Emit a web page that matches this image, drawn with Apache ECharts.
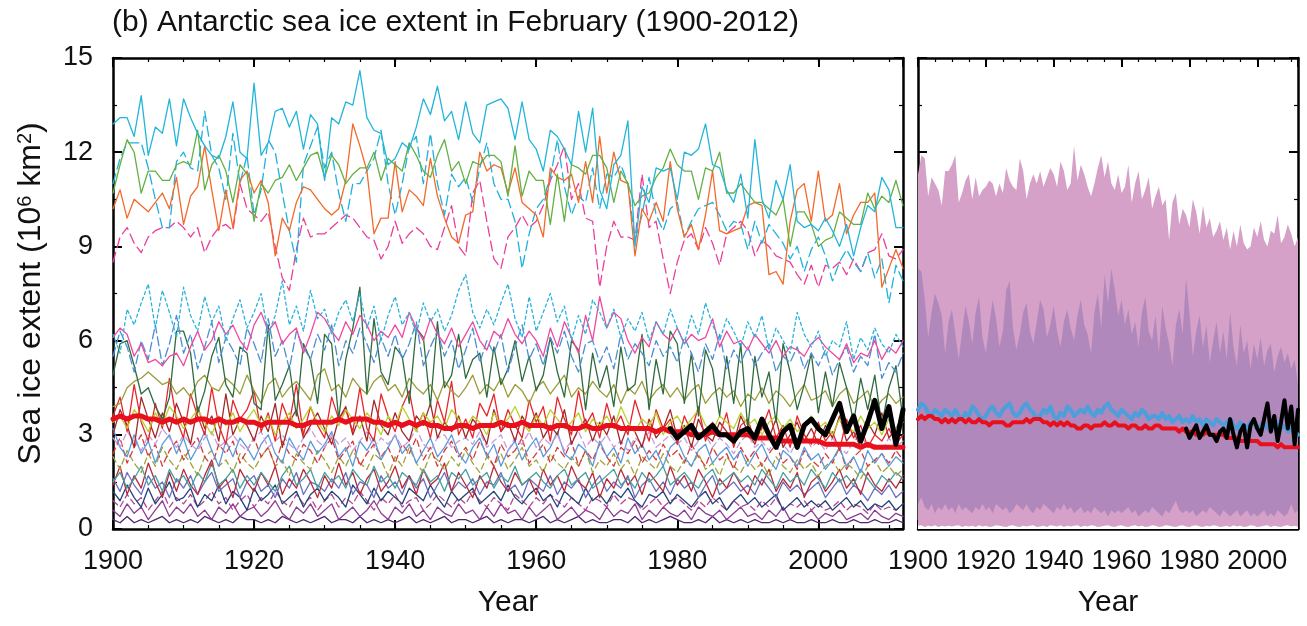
<!DOCTYPE html>
<html>
<head>
<meta charset="utf-8">
<script src="https://cdn.jsdelivr.net/npm/echarts@6/dist/echarts.min.js"></script>
<style>
  html, body { margin: 0; padding: 0; background: #fff; }
  #chart { width: 1307px; height: 626px; }
</style>
</head>
<body>
<div id="chart"></div>
<script>
// years 1900..2012, observations 1979..2012
const YEARS = Array.from({ length: 113 }, (_, i) => 1900 + i);
const OBS_YEARS = YEARS.slice(79);
const X_TICKS = { min: 1900, max: 2012, major: 20, minor: 5 };
const Y_TICKS = { min: 0, max: 15, major: 3 };

// individual model runs (left panel), 10^6 km^2
const CYAN_SOLID = [
  12.9,13.1,13.1,12.5,13.8,11.9,12.8,12.6,13.7,12.2,
  13.7,13.1,12.6,12.2,11.9,11.8,12.5,13.6,12.0,11.8,
  14.2,11.9,12.3,13.3,13.4,12.8,13.3,12.1,13.2,12.9,
  11.1,13.1,12.9,13.6,13.5,14.6,13.1,12.7,12.6,11.6,
  11.8,12.3,12.1,12.8,13.7,13.2,14.1,13.0,13.3,12.4,
  13.6,12.6,12.3,13.5,13.6,13.7,13.4,12.4,13.6,12.4,
  12.1,11.4,12.7,12.5,12.1,11.6,13.3,12.0,13.4,10.8,
  10.2,11.6,11.9,13.0,9.0,10.9,10.4,11.5,11.4,11.5,
  10.5,12.0,11.9,12.1,12.9,11.6,11.5,10.8,10.4,11.3,
  9.9,12.4,10.5,9.9,11.1,10.5,11.6,9.8,9.6,9.7,
  9.5,9.9,9.5,9.0,9.7,8.7,9.6,10.3,10.1,11.2,
  10.8,9.6,9.6
];
const GREEN_SOLID = [
  10.7,11.6,12.4,12.0,10.7,11.4,11.4,11.1,11.1,11.6,
  11.7,11.6,12.7,10.8,11.6,11.9,11.4,10.4,11.6,11.3,
  9.8,11.0,10.7,11.1,11.2,11.6,11.1,11.5,11.9,12.0,
  11.2,11.9,11.6,11.0,11.3,11.5,11.5,12.0,11.1,11.8,
  11.6,11.4,12.3,11.9,11.4,11.2,11.9,12.4,11.4,11.7,
  11.0,11.7,11.6,11.9,11.9,11.7,10.6,12.2,10.6,11.4,
  11.1,11.1,9.7,11.3,9.8,11.6,11.5,11.3,11.9,11.9,
  11.5,10.4,11.4,11.0,10.3,10.6,10.7,11.2,11.5,12.1,
  11.6,11.4,11.4,10.5,11.5,11.4,12.0,10.7,10.7,11.0,
  10.7,10.4,10.4,10.2,10.0,10.5,9.0,10.1,10.1,9.7,
  9.0,9.2,9.3,10.1,9.9,9.7,9.7,10.7,10.2,10.6,
  10.4,11.1,10.3
];
const ORANGE_SOLID = [
  10.2,10.8,9.9,10.5,10.3,10.1,10.4,10.7,10.2,11.2,
  9.7,10.6,10.9,12.2,10.8,9.5,10.8,9.6,11.1,11.4,
  10.7,11.1,10.4,8.7,9.9,9.5,10.4,10.9,10.8,10.5,
  10.2,10.0,10.2,11.1,12.9,12.2,11.4,9.4,9.9,9.9,
  11.7,10.1,10.8,10.6,10.3,11.8,10.6,9.9,9.3,9.1,
  10.0,10.1,12.0,11.4,11.6,11.5,10.7,11.5,10.4,10.2,
  10.0,9.3,11.5,11.2,11.1,11.3,10.4,11.7,10.4,12.5,
  10.7,12.0,11.1,11.0,8.7,10.2,9.8,10.4,9.8,11.7,
  10.2,9.3,9.7,8.9,10.0,11.4,9.5,9.4,9.5,9.6,
  10.3,10.4,10.3,8.1,8.2,7.8,9.8,10.8,11.0,9.8,
  11.4,9.8,10.0,11.0,9.4,10.0,10.4,10.4,10.7,7.7,
  8.3,8.9,8.3
];
const CYAN_DASHED = [
  11.0,11.8,12.3,12.3,12.3,11.5,10.5,9.6,9.6,11.7,
  12.0,11.5,11.4,13.3,11.9,11.5,10.5,12.6,11.0,11.9,
  10.0,10.8,12.4,12.0,10.7,9.5,8.5,11.6,12.2,12.8,
  11.5,12.0,10.7,9.8,11.0,11.0,11.4,11.8,12.7,11.0,
  10.0,11.0,12.2,12.5,11.0,12.6,11.0,10.0,11.3,10.9,
  11.2,10.4,11.5,12.3,11.0,10.5,10.5,9.8,8.3,9.4,
  10.2,10.5,11.2,12.4,10.9,10.0,10.6,10.4,11.5,10.2,
  11.3,11.2,11.6,11.0,9.2,10.0,11.2,10.0,9.5,10.2,
  10.4,9.3,9.8,10.2,10.3,10.4,10.0,9.5,9.8,9.7,
  8.9,9.8,9.1,9.7,9.4,9.1,8.6,9.0,8.2,8.9,
  9.3,8.7,7.9,8.5,8.9,8.5,8.2,8.8,8.0,8.6,
  7.2,8.4,7.9
];
const PINK_DASHED = [
  8.5,9.3,9.6,9.1,8.8,9.3,9.5,9.6,9.6,9.8,
  9.6,9.3,9.6,8.8,9.3,9.6,9.7,9.5,11.0,10.2,
  10.0,9.8,10.1,9.0,8.0,7.6,8.9,9.9,9.3,9.4,
  9.4,9.6,9.8,10.0,9.9,9.6,9.3,9.2,8.6,9.0,
  9.8,9.1,9.4,9.6,9.4,9.0,8.9,9.6,10.3,9.0,
  8.7,10.7,11.1,9.8,8.6,8.3,9.3,9.6,10.0,9.6,
  9.8,10.3,11.1,11.6,12.2,10.5,11.0,9.9,9.8,7.7,
  9.0,9.8,9.3,9.3,9.2,11.3,9.6,9.8,8.6,7.5,
  8.5,9.2,9.4,8.9,9.6,9.1,8.4,9.4,9.6,9.8,
  9.5,8.7,9.2,9.0,8.7,8.6,8.5,8.1,7.8,8.4,
  7.7,8.4,8.3,8.5,8.1,8.6,8.2,8.8,8.9,9.4,
  8.7,8.6,8.9
];
const CYAN_DOTTED = [
  6.2,5.6,7.0,6.5,7.2,7.8,6.4,7.6,6.9,6.1,
  7.7,6.8,6.3,7.4,6.6,7.1,6.0,6.7,7.3,6.4,
  6.9,7.5,6.2,6.8,7.9,6.5,7.1,6.3,7.6,6.7,
  7.0,6.2,6.9,7.3,6.6,7.5,6.4,7.1,6.0,6.8,
  7.4,6.5,6.9,6.2,7.2,6.6,7.0,6.3,6.8,7.6,
  8.1,6.9,6.4,7.0,6.5,7.2,7.8,6.7,6.1,7.4,
  6.3,6.9,7.5,6.6,7.1,6.0,6.8,6.2,7.3,6.9,
  6.4,7.0,6.1,6.7,6.3,6.9,6.0,6.6,6.2,7.0,
  6.4,5.9,6.8,6.2,7.2,6.5,6.0,6.7,6.3,5.8,
  6.6,6.1,6.8,5.7,6.4,6.0,5.6,6.9,6.2,5.8,
  6.3,5.5,6.0,5.8,6.6,5.4,6.1,5.7,6.4,5.9,
  5.6,6.2,5.8
];
const BLUE_DASHED = [
  5.5,6.3,5.8,5.0,6.0,5.4,6.5,5.2,5.9,6.8,
  5.6,6.2,5.1,5.8,6.6,5.3,6.1,5.7,5.2,6.4,
  5.9,5.3,6.7,5.5,6.0,5.1,6.3,5.8,5.4,6.2,
  5.7,6.5,5.2,6.0,5.6,6.4,5.9,5.3,6.1,5.5,
  6.2,5.4,5.9,6.6,5.2,5.8,6.3,5.5,6.0,5.1,
  5.7,6.4,5.3,6.0,5.6,6.2,5.0,5.8,6.5,5.4,
  5.9,5.2,6.1,5.6,6.3,5.5,5.0,5.9,6.0,5.3,
  5.8,5.1,6.2,5.4,5.9,5.6,5.2,6.0,5.5,5.8,
  5.3,6.1,5.6,5.0,5.9,5.4,6.2,5.1,5.7,5.3,
  5.8,5.2,5.6,5.9,5.0,5.5,5.3,5.8,5.1,5.6,
  5.2,5.7,4.9,5.4,5.8,5.0,5.5,5.2,6.2,4.8,
  5.3,5.0,5.6
];
const PINK_SOLID = [
  6.1,6.4,6.2,5.5,5.9,5.3,5.4,5.2,5.5,5.6,
  5.2,5.8,6.3,5.7,6.0,6.6,6.2,6.5,6.0,5.7,
  6.5,6.9,6.3,6.6,5.9,6.2,6.4,5.6,6.2,6.9,
  6.7,6.3,6.0,6.6,6.2,6.8,6.5,6.0,6.3,6.1,
  6.5,6.1,6.9,6.4,6.0,6.7,6.2,5.9,6.4,5.8,
  6.2,6.6,6.0,5.7,6.3,6.1,6.7,6.2,5.9,6.3,
  6.0,5.5,6.4,5.8,6.6,6.1,5.6,6.8,6.0,7.4,
  6.4,6.9,6.7,6.0,5.6,6.1,5.8,6.6,6.2,6.0,
  6.4,5.9,6.2,6.0,6.1,6.7,5.8,6.3,5.9,6.0,
  5.7,6.2,5.9,5.6,6.0,5.5,5.8,5.7,5.5,5.9,
  6.1,5.8,5.6,5.4,5.9,5.3,5.6,5.5,6.0,5.4,
  5.8,5.6,6.0
];
const DARK_GREEN = [
  4.9,5.9,6.0,5.2,4.3,4.5,3.9,3.5,4.2,6.3,
  6.3,5.6,3.7,4.4,5.5,6.1,4.6,4.2,5.8,5.6,
  4.0,3.8,6.5,4.1,4.6,5.2,3.6,5.9,5.4,4.0,
  6.2,5.9,3.5,5.4,6.4,7.7,4.3,6.7,5.0,4.6,
  5.8,5.5,4.0,6.4,6.1,3.9,6.6,4.5,4.9,6.2,
  4.8,5.4,5.6,4.2,5.8,4.6,5.1,6.0,4.7,5.5,
  4.4,4.9,6.1,5.0,4.2,6.0,5.7,3.8,5.6,4.5,
  5.2,3.9,5.8,4.4,4.6,6.2,3.8,5.4,4.3,6.3,
  5.9,4.0,5.6,3.6,5.7,5.1,3.6,5.5,4.0,5.9,
  3.2,5.5,4.2,5.0,3.4,5.9,5.0,3.8,4.6,5.6,
  3.7,5.0,3.9,5.3,4.5,3.4,4.8,3.8,4.9,3.3,
  4.5,5.2,3.5
];
const OLIVE_SOLID = [
  3.9,4.0,4.5,4.7,4.8,5.0,4.8,4.6,4.7,4.3,
  4.5,4.2,4.7,4.9,4.5,4.4,4.8,4.6,4.3,4.9,
  4.4,4.0,4.6,4.8,4.2,4.5,4.7,4.4,4.1,4.9,
  5.1,4.4,4.6,4.2,4.8,4.5,4.3,4.7,4.9,4.4,
  4.6,4.2,4.8,4.5,4.3,4.6,4.1,4.7,4.4,4.2,
  4.5,4.9,4.3,4.6,4.4,4.8,4.2,4.6,4.4,4.0,
  4.5,4.7,4.3,4.6,4.9,4.2,4.5,4.3,4.7,4.4,
  4.2,4.6,4.0,4.5,4.3,4.7,4.1,4.4,4.6,4.2,
  4.5,4.1,4.4,4.6,4.0,4.3,4.5,4.2,4.4,3.9,
  4.3,4.1,4.5,4.0,4.4,4.2,3.9,4.3,4.6,4.1,
  4.2,4.4,3.9,4.3,4.5,4.0,4.2,4.4,3.8,4.1,
  4.3,4.0,4.2
];
const LIME_SOLID = [
  3.4,3.6,3.2,3.8,3.5,3.1,3.7,3.3,3.9,3.6,
  3.2,3.5,3.8,3.4,3.0,3.6,3.3,3.7,3.1,3.5,
  3.8,3.3,3.6,3.0,3.4,3.7,3.2,3.5,3.9,3.4,
  3.1,3.6,3.3,3.8,3.5,3.2,3.7,3.4,3.0,3.6,
  3.3,3.9,3.5,3.1,3.7,3.4,3.6,3.2,3.8,3.5,
  3.2,3.6,3.4,3.0,3.7,3.3,3.5,3.9,3.4,3.1,
  3.6,3.3,3.8,3.5,3.2,3.4,3.7,3.1,3.5,3.3,
  3.6,3.2,3.9,3.4,3.1,3.5,3.3,3.7,3.0,3.4,
  3.6,3.2,3.5,3.8,3.3,3.1,3.6,3.4,3.2,3.7,
  3.3,3.5,3.0,3.4,3.6,3.2,3.5,3.1,3.3,3.6,
  3.2,3.4,3.0,3.5,3.3,3.1,3.6,3.2,3.4,3.0,
  3.5,3.2,3.4
];
const RED_THIN = [
  3.6,4.2,3.1,4.6,3.4,2.8,4.0,3.2,4.8,3.5,
  2.9,4.3,3.6,3.0,4.5,3.3,2.7,4.1,3.5,3.8,
  4.4,3.1,3.7,2.8,4.0,3.4,4.6,3.0,3.9,3.3,
  2.9,4.2,3.5,3.8,3.1,4.5,3.2,2.8,4.3,3.6,
  3.1,3.9,4.4,3.2,3.7,2.9,4.1,3.4,4.7,3.0,
  3.5,2.9,4.0,3.6,4.3,3.1,3.8,3.3,2.9,4.1,
  3.4,3.9,2.8,4.2,3.5,3.0,4.4,3.3,3.7,2.9,
  4.0,3.2,3.6,3.0,4.1,3.4,2.8,3.8,3.2,3.5,
  2.7,3.6,3.1,3.9,2.8,3.4,3.0,3.7,2.6,3.3,
  3.5,2.8,3.2,3.8,2.9,3.3,2.6,3.6,3.0,2.7,
  3.4,2.8,3.1,2.5,3.5,2.9,3.3,2.6,3.0,2.8,
  3.2,2.7,3.0
];
const BROWN_SOLID = [
  3.0,3.8,3.3,2.6,4.2,3.5,2.9,3.7,3.1,4.0,
  3.4,2.7,3.9,3.2,3.6,2.8,4.3,3.0,3.5,3.3,
  2.8,3.6,3.1,4.0,2.6,3.4,3.8,2.9,3.3,3.7,
  3.2,2.7,3.5,3.9,3.0,3.6,2.8,4.1,3.3,3.0,
  3.7,3.1,2.8,3.6,3.3,4.0,2.9,3.4,3.1,3.6,
  2.9,3.5,3.2,2.7,3.8,3.1,3.4,2.8,3.6,3.2,
  3.7,2.9,3.3,3.0,3.8,2.7,3.2,3.5,2.8,3.4,
  3.0,3.6,2.7,3.3,3.1,2.6,3.5,2.9,3.2,3.8,
  2.9,3.3,2.6,3.5,3.0,2.8,3.4,3.1,2.7,3.6,
  3.1,2.7,3.3,2.9,3.5,2.6,3.0,3.4,2.8,3.2,
  2.7,3.3,2.9,3.6,2.8,3.1,2.6,3.4,3.0,3.7,
  2.9,3.2,3.6
];
const LAVENDER_DASHED = [
  2.9,2.6,3.1,2.8,2.5,3.0,2.7,3.2,2.9,2.6,
  3.0,2.7,2.5,2.9,3.1,2.6,2.8,3.0,2.7,2.5,
  2.9,3.1,2.6,2.8,3.0,2.7,2.5,2.9,3.2,2.8,
  2.6,3.0,2.7,2.9,2.5,2.8,3.1,2.6,2.9,2.7,
  3.0,2.6,2.8,3.2,2.7,2.5,2.9,3.0,2.6,2.8,
  2.9,2.7,3.1,2.6,2.8,3.0,2.5,2.9,2.7,3.1,
  2.6,2.9,2.7,3.0,2.5,2.8,3.1,2.6,2.9,2.7,
  3.0,2.6,2.8,2.5,2.9,2.7,3.1,2.6,2.8,3.0,
  2.7,2.9,2.5,2.8,3.0,2.6,2.9,2.7,2.4,2.8,
  3.0,2.6,2.8,2.5,2.9,2.7,2.4,2.8,3.0,2.6,
  2.8,2.5,2.9,2.6,2.4,2.8,3.0,2.6,2.7,2.5,
  2.9,2.6,2.8
];
const STEEL_SOLID = [
  3.2,2.6,2.3,3.0,2.4,2.8,2.1,2.7,3.0,2.4,
  2.9,2.2,2.6,3.1,2.5,2.0,2.8,2.3,2.9,2.6,
  2.2,2.7,3.0,2.4,2.1,2.9,2.5,2.2,2.8,2.4,
  2.7,3.1,2.3,2.6,2.0,2.8,2.5,2.9,2.2,2.6,
  3.0,2.4,2.7,2.1,2.5,2.9,2.3,2.6,3.0,2.4,
  2.1,2.6,2.9,2.3,2.7,2.0,2.5,2.8,2.2,2.6,
  2.9,2.3,2.6,3.1,2.4,2.2,2.7,2.5,2.0,2.8,
  2.3,2.6,2.1,2.9,2.4,2.7,2.2,2.5,2.0,2.6,
  2.8,2.3,2.0,2.5,2.7,2.1,2.4,2.6,2.2,2.5,
  2.0,2.4,2.7,2.2,1.9,2.5,2.3,2.0,2.6,2.2,
  2.4,1.9,2.2,2.6,2.0,2.3,1.8,2.5,2.1,2.4,
  2.0,2.3,2.1
];
const CRIMSON_DASHED = [
  2.4,2.9,2.1,2.6,3.0,2.3,2.7,2.0,2.5,2.8,
  2.2,2.6,2.9,2.3,2.0,2.7,2.4,2.8,2.1,2.5,
  2.9,2.3,2.6,2.0,2.8,2.4,2.2,2.7,2.5,2.1,
  2.6,2.9,2.2,2.5,2.8,2.0,2.4,2.7,2.3,2.6,
  2.1,2.7,2.4,2.9,2.2,2.6,2.0,2.5,2.8,2.3,
  2.6,2.2,2.8,2.4,2.0,2.7,2.3,2.5,2.9,2.1,
  2.4,2.7,2.1,2.6,2.3,2.8,2.0,2.5,2.2,2.7,
  2.3,2.0,2.6,2.4,2.8,2.1,2.5,2.2,2.7,2.3,
  2.5,2.1,2.7,2.3,2.0,2.6,2.2,2.4,1.9,2.6,
  2.2,2.5,2.0,2.4,2.7,2.1,2.3,1.9,2.5,2.2,
  2.0,2.4,2.1,2.6,1.9,2.3,2.5,2.0,2.2,2.4,
  2.1,2.5,2.2
];
const OLIVE_DASHED = [
  2.3,1.9,2.5,2.1,1.8,2.4,2.0,2.6,2.2,1.9,
  2.4,2.1,1.7,2.3,2.5,2.0,2.2,1.8,2.4,2.1,
  1.9,2.3,2.6,2.0,2.2,1.7,2.4,2.1,1.9,2.5,
  2.2,1.8,2.3,2.0,2.5,2.1,1.9,2.4,2.2,1.7,
  2.3,2.0,2.6,2.1,1.8,2.4,2.2,1.9,2.3,2.0,
  2.5,2.1,1.8,2.3,2.0,2.4,1.9,2.2,2.6,2.0,
  2.2,1.8,2.4,2.1,1.9,2.3,2.0,2.5,1.8,2.2,
  2.0,2.4,1.9,2.2,1.7,2.3,2.1,1.9,2.4,2.0,
  1.8,2.2,2.0,2.4,1.9,2.1,1.7,2.3,2.0,1.8,
  2.2,1.9,2.1,1.7,2.3,2.0,1.8,2.2,1.9,2.1,
  1.7,2.0,2.2,1.8,2.1,1.9,1.6,2.0,2.2,1.8,
  2.0,1.7,1.9
];
const TEAL_SOLID = [
  1.5,1.8,1.3,1.6,2.0,1.4,1.7,1.2,1.9,1.5,
  1.7,1.3,1.8,1.5,2.1,1.4,1.6,1.9,1.3,1.7,
  1.4,1.8,1.5,1.2,1.7,2.0,1.4,1.6,1.9,1.3,
  1.8,1.5,1.7,1.3,1.9,1.6,1.4,2.0,1.5,1.7,
  1.3,1.8,1.6,1.4,1.9,1.5,1.7,1.2,1.8,1.6,
  1.9,1.4,1.6,1.8,1.3,1.7,1.5,2.0,1.4,1.6,
  1.8,1.5,1.3,1.7,1.9,1.4,1.6,1.8,1.3,1.5,
  1.7,1.9,1.4,1.6,1.3,1.8,1.5,1.7,2.0,1.4,
  1.6,1.8,1.5,1.3,1.7,1.9,1.4,1.6,1.8,1.5,
  1.7,1.4,1.9,1.6,1.3,1.8,1.5,1.7,1.4,1.9,
  1.6,1.3,1.8,1.5,1.7,1.4,1.9,1.6,1.3,1.7,
  1.5,1.8,1.6
];
const DARK_RED = [
  1.4,2.0,1.1,1.7,1.3,2.1,1.5,1.0,1.8,1.2,
  1.9,1.4,1.1,1.7,2.2,1.3,1.6,1.0,1.9,1.5,
  1.2,1.8,1.4,2.0,1.1,1.6,1.3,1.9,1.5,1.0,
  1.7,1.3,2.1,1.4,1.8,1.1,1.6,1.9,1.2,1.5,
  2.0,1.3,1.7,1.1,1.9,1.4,1.6,2.1,1.2,1.8,
  1.4,1.0,1.7,1.3,2.0,1.5,1.2,1.8,1.4,1.6,
  1.1,1.9,1.4,1.7,1.2,2.0,1.5,1.3,1.8,1.0,
  1.6,1.3,1.9,1.4,1.7,1.1,1.8,1.5,1.2,2.0,
  1.4,1.7,1.2,1.9,1.5,1.0,1.6,1.3,1.8,1.4,
  1.1,1.7,1.4,1.9,1.2,1.6,1.3,1.8,1.0,1.5,
  1.7,1.2,1.5,1.9,1.3,1.6,1.1,1.8,1.4,1.2,
  1.6,1.3,1.7
];
const SLATE_SOLID = [
  1.6,1.2,1.8,1.4,1.1,1.7,1.3,1.5,1.0,1.6,
  1.3,1.7,1.1,1.5,1.8,1.2,1.4,1.6,1.0,1.5,
  1.7,1.2,1.4,1.0,1.6,1.3,1.8,1.1,1.5,1.4,
  1.2,1.6,1.3,1.8,1.1,1.5,1.4,1.0,1.7,1.3,
  1.5,1.1,1.7,1.3,1.6,1.0,1.4,1.8,1.2,1.5,
  1.3,1.6,1.1,1.5,1.4,1.8,1.2,1.4,1.0,1.6,
  1.4,1.2,1.7,1.1,1.5,1.3,1.6,1.0,1.4,1.7,
  1.2,1.5,1.3,1.7,1.0,1.4,1.6,1.2,1.5,1.1,
  1.6,1.3,1.5,1.0,1.4,1.7,1.1,1.3,1.5,1.2,
  1.4,1.1,1.6,1.3,1.0,1.5,1.2,1.4,1.1,1.3,
  1.5,1.0,1.3,1.6,1.1,1.4,1.2,0.9,1.3,1.1,
  1.4,1.0,1.2
];
const NAVY_SOLID = [
  1.2,0.9,1.4,1.0,0.7,1.3,0.8,1.1,1.5,0.9,
  1.0,1.3,0.7,1.1,0.9,1.4,0.8,1.2,1.0,0.6,
  1.3,0.9,1.1,1.4,0.8,1.0,1.2,0.7,1.1,1.3,
  0.9,1.2,1.0,0.7,1.4,1.1,0.8,1.3,0.9,1.2,
  1.0,0.8,1.3,1.1,0.9,1.4,1.0,0.7,1.2,0.9,
  1.1,1.3,0.8,1.0,1.2,0.9,1.4,1.0,0.8,1.1,
  1.3,0.9,1.1,0.7,1.2,1.0,0.8,1.3,0.9,1.1,
  0.8,1.2,1.0,1.3,0.9,0.7,1.1,1.0,1.2,0.8,
  1.1,0.9,0.7,1.0,1.2,0.8,1.0,0.6,0.9,1.1,
  0.8,1.0,0.7,0.9,1.1,0.6,0.8,1.0,0.7,0.9,
  0.7,0.9,0.6,0.8,1.0,0.7,0.9,0.6,0.8,0.7,
  0.9,0.6,0.8
];
const MAGENTA_DASHED = [
  0.9,0.7,1.1,0.8,1.0,0.6,0.9,1.2,0.7,1.0,
  0.8,1.1,0.7,0.9,1.2,0.8,1.0,0.6,0.9,1.1,
  0.7,1.0,0.8,1.2,0.9,0.7,1.1,0.8,1.0,0.6,
  0.9,1.1,0.7,1.0,0.8,1.2,0.9,0.6,1.0,0.8,
  1.1,0.7,0.9,1.0,0.6,0.8,1.1,0.9,0.7,1.0,
  0.8,1.2,0.9,0.7,1.0,0.8,0.6,1.1,0.9,0.7,
  1.0,0.8,1.1,0.9,0.7,1.0,0.8,0.6,1.0,0.9,
  0.7,1.1,0.8,1.0,0.9,0.6,0.8,1.0,0.7,0.9,
  1.0,0.8,0.6,0.9,0.7,1.0,0.8,0.6,0.9,0.7,
  0.8,0.6,0.9,0.7,1.0,0.6,0.8,0.7,0.9,0.6,
  0.8,0.6,0.7,0.9,0.6,0.8,0.7,0.5,0.8,0.6,
  0.7,0.6,0.8
];
const PURPLE_SOLID = [
  0.6,0.4,0.8,0.5,0.7,0.3,0.6,0.9,0.4,0.7,
  0.5,0.8,0.4,0.6,0.3,0.7,0.5,0.8,0.4,0.6,
  0.7,0.4,0.6,0.9,0.5,0.3,0.7,0.5,0.8,0.4,
  0.6,0.8,0.3,0.5,0.7,0.4,0.6,0.9,0.5,0.3,
  0.7,0.5,0.8,0.4,0.6,0.3,0.7,0.5,0.4,0.8,
  0.5,0.6,0.3,0.7,0.4,0.8,0.5,0.6,0.3,0.7,
  0.4,0.6,0.8,0.3,0.5,0.7,0.4,0.6,0.5,0.3,
  0.7,0.4,0.6,0.5,0.8,0.3,0.6,0.4,0.7,0.5,
  0.4,0.6,0.3,0.7,0.5,0.4,0.6,0.3,0.5,0.7,
  0.4,0.5,0.3,0.6,0.4,0.7,0.3,0.5,0.4,0.6,
  0.3,0.5,0.4,0.6,0.3,0.4,0.5,0.3,0.6,0.4,
  0.3,0.5,0.4
];
const PLUM_SOLID = [
  0.3,0.2,0.4,0.2,0.3,0.2,0.3,0.4,0.2,0.3,
  0.2,0.3,0.2,0.4,0.3,0.2,0.3,0.2,0.4,0.3,
  0.3,0.2,0.3,0.2,0.4,0.3,0.2,0.3,0.2,0.3,
  0.4,0.2,0.3,0.3,0.2,0.4,0.2,0.3,0.2,0.3,
  0.2,0.3,0.4,0.2,0.3,0.2,0.3,0.4,0.2,0.3,
  0.3,0.2,0.3,0.4,0.2,0.3,0.2,0.3,0.3,0.2,
  0.3,0.4,0.2,0.3,0.2,0.3,0.4,0.2,0.3,0.2,
  0.2,0.3,0.3,0.2,0.4,0.2,0.3,0.2,0.3,0.4,
  0.3,0.2,0.2,0.3,0.2,0.4,0.2,0.3,0.2,0.3,
  0.2,0.3,0.2,0.2,0.3,0.2,0.3,0.2,0.2,0.3,
  0.2,0.2,0.3,0.2,0.2,0.3,0.2,0.2,0.3,0.2,
  0.2,0.3,0.2
];

// multi-model mean (thick red), second mean (blue, right panel), observations (black)
const MODEL_MEAN = [
  3.5,3.6,3.5,3.6,3.6,3.5,3.5,3.4,3.5,3.4,
  3.5,3.4,3.5,3.5,3.4,3.5,3.4,3.4,3.5,3.4,
  3.4,3.3,3.4,3.4,3.4,3.4,3.3,3.3,3.4,3.4,
  3.4,3.4,3.5,3.4,3.5,3.5,3.5,3.4,3.4,3.3,
  3.4,3.3,3.4,3.3,3.4,3.3,3.3,3.2,3.2,3.3,
  3.3,3.2,3.3,3.3,3.3,3.4,3.3,3.3,3.4,3.3,
  3.3,3.3,3.2,3.3,3.3,3.2,3.2,3.3,3.2,3.2,
  3.3,3.3,3.2,3.2,3.2,3.2,3.2,3.1,3.2,3.1,
  3.1,3.1,3.0,3.0,3.0,3.1,3.0,3.0,3.0,3.0,
  3.0,2.9,2.9,2.9,2.9,2.8,2.8,2.8,2.8,2.8,
  2.8,2.7,2.7,2.7,2.7,2.7,2.6,2.7,2.6,2.6,
  2.6,2.6,2.6
];
const SUBSET_MEAN = [
  3.8,4.0,3.9,3.7,3.6,3.8,3.7,3.6,3.8,3.7,
  3.6,3.8,3.6,3.5,3.7,3.6,3.9,3.8,3.6,3.5,
  3.6,3.8,3.9,3.7,3.6,3.8,3.9,4.0,3.7,3.6,
  3.7,3.9,4.0,3.8,3.7,3.5,3.6,3.8,3.7,3.9,
  3.6,3.5,3.7,3.6,3.9,3.8,3.6,3.7,3.8,3.7,
  3.9,3.7,3.6,3.8,3.7,3.9,4.0,3.8,3.7,3.6,
  3.8,3.7,3.6,3.5,3.7,3.6,3.8,3.7,3.5,3.6,
  3.6,3.5,3.7,3.5,3.6,3.4,3.5,3.6,3.4,3.5,
  3.4,3.6,3.4,3.5,3.3,3.5,3.4,3.3,3.5,3.4,
  3.3,3.4,3.5,3.3,3.2,3.4,3.3,3.2,3.4,3.3,
  3.2,3.3,3.4,3.2,3.3,3.2,3.4,3.2,3.3,3.1,
  3.2,3.1,3.0
];
const OBSERVED = [
  3.2,2.9,3.1,3.3,2.9,3.1,3.3,3.0,3.0,2.8,
  3.1,3.2,2.9,3.5,3.0,2.6,3.1,3.3,2.6,3.3,
  3.5,3.2,3.0,3.5,4.0,3.1,3.6,2.8,3.4,4.1,
  3.2,3.9,2.7,3.8
];

// right panel envelopes
const RANGE_HI = [
  11.3,11.9,11.8,10.6,11.2,11.0,10.8,10.3,11.4,11.4,
  11.6,11.9,10.4,10.7,11.1,11.3,10.5,11.2,10.6,10.8,
  10.9,11.1,11.0,10.6,11.0,10.7,11.5,11.1,10.9,10.8,
  11.8,11.4,10.5,11.0,11.3,11.0,11.4,10.9,11.2,11.5,
  11.3,10.9,11.7,11.4,10.8,11.0,12.2,11.1,11.6,11.3,
  10.9,10.6,11.0,11.5,11.9,11.2,11.7,11.0,10.8,11.3,
  10.7,10.9,11.6,10.4,11.0,11.4,10.5,10.8,11.2,10.2,
  10.6,10.9,10.3,10.5,9.2,10.4,10.7,9.7,10.2,10.0,
  9.6,10.5,10.1,9.4,10.3,9.6,9.9,9.3,9.5,9.8,
  9.2,9.6,8.9,9.5,9.0,9.7,9.1,8.9,9.0,9.6,
  9.3,9.8,9.2,9.0,9.5,9.4,10.0,9.1,9.3,9.7,
  9.4,9.0,9.3
];
const SPREAD_HI = [
  8.3,8.2,7.3,6.1,6.9,7.5,7.2,6.8,5.6,6.6,
  7.0,6.2,5.4,6.3,7.1,6.6,5.9,6.9,7.4,6.1,
  5.6,6.5,7.3,6.7,5.8,6.3,7.6,7.9,6.4,5.7,
  6.2,6.9,7.2,6.3,5.9,6.6,7.3,7.0,6.1,6.5,
  7.1,6.3,5.8,6.6,7.0,6.4,6.0,6.8,7.3,6.5,
  6.2,5.6,6.9,7.5,6.4,8.1,7.2,8.3,7.6,6.8,
  7.3,6.5,7.0,6.2,6.6,5.8,6.9,7.4,6.3,6.0,
  6.8,5.6,7.1,6.4,5.9,5.2,6.5,7.0,6.2,8.0,
  6.9,5.5,6.3,6.8,5.8,6.5,5.3,6.0,6.6,5.6,
  6.3,5.4,6.9,5.8,5.2,6.5,5.6,6.0,5.1,5.9,
  5.4,6.1,5.2,5.7,5.9,5.0,5.5,5.8,5.3,5.6,
  5.1,5.4,4.6
];
const SPREAD_LO = [
  0.8,1.0,0.7,0.6,0.8,0.5,0.7,0.6,0.8,0.6,
  0.7,0.5,0.8,0.6,0.7,0.6,0.5,0.7,0.6,0.8,
  0.6,0.7,0.5,0.8,0.7,0.6,0.7,0.5,0.6,0.8,
  0.7,0.6,0.8,0.6,0.5,0.7,0.6,0.8,0.7,0.6,
  0.5,0.7,0.6,0.8,0.6,0.7,0.5,0.6,0.7,0.5,
  0.6,0.5,0.7,0.6,0.5,0.6,0.4,0.6,0.5,0.6,
  0.5,0.6,0.7,0.5,0.6,0.4,0.5,0.6,0.5,0.7,
  0.6,0.5,0.4,0.6,0.5,0.7,0.9,0.6,0.5,0.6,
  0.5,0.6,0.4,0.5,0.6,0.5,0.7,0.6,0.5,0.4,
  0.6,0.5,0.4,0.5,0.6,0.4,0.5,0.6,0.4,0.5,
  0.4,0.5,0.6,0.4,0.5,0.4,0.6,0.5,0.4,0.5,
  0.8,0.5,0.6
];
const RANGE_LO = [
  0.10,0.12,0.06,0.10,0.08,0.12,0.06,0.10,0.08,0.10,
  0.08,0.10,0.12,0.06,0.10,0.08,0.10,0.06,0.12,0.08,
  0.10,0.06,0.08,0.12,0.10,0.08,0.06,0.10,0.12,0.08,
  0.06,0.10,0.08,0.10,0.12,0.06,0.08,0.10,0.06,0.12,
  0.10,0.08,0.12,0.06,0.10,0.08,0.10,0.12,0.06,0.10,
  0.08,0.12,0.10,0.06,0.08,0.10,0.12,0.08,0.06,0.10,
  0.12,0.08,0.06,0.10,0.12,0.08,0.10,0.06,0.08,0.12,
  0.10,0.06,0.08,0.12,0.10,0.08,0.06,0.10,0.12,0.08,
  0.06,0.10,0.12,0.08,0.06,0.10,0.08,0.12,0.10,0.06,
  0.08,0.10,0.06,0.12,0.08,0.10,0.06,0.08,0.12,0.10,
  0.06,0.08,0.10,0.12,0.06,0.10,0.08,0.06,0.10,0.12,
  0.08,0.10,0.08
];

const FONT = "'Liberation Sans', Arial, sans-serif";
const INK = "#111";

const chart = echarts.init(document.getElementById("chart"), null, { renderer: "canvas" });

const pairs = (vals, yrs = YEARS) => vals.map((v, i) => [yrs[i], v]);

// thin model lines, drawn bottom to top
const runs = [
  [PLUM_SOLID, "#4f2470", "solid"],
  [PURPLE_SOLID, "#8c3d94", "solid"],
  [MAGENTA_DASHED, "#b24493", [6, 4]],
  [NAVY_SOLID, "#24427a", "solid"],
  [SLATE_SOLID, "#6a6fc0", "solid"],
  [DARK_RED, "#b8293a", "solid"],
  [TEAL_SOLID, "#45a0a0", "solid"],
  [OLIVE_DASHED, "#a3a23a", [6, 4]],
  [CRIMSON_DASHED, "#d33b3e", [6, 4]],
  [STEEL_SOLID, "#5b9bdc", "solid"],
  [LAVENDER_DASHED, "#c79bd8", [6, 4]],
  [BROWN_SOLID, "#a3282b", "solid"],
  [RED_THIN, "#e8262a", "solid"],
  [LIME_SOLID, "#b8d22d", "solid"],
  [OLIVE_SOLID, "#9a9c38", "solid"],
  [DARK_GREEN, "#2f6b3e", "solid"],
  [BLUE_DASHED, "#4a8fd4", [9, 4]],
  [PINK_SOLID, "#ee4aa0", "solid"],
  [CYAN_DOTTED, "#2ab2dc", [3, 3]],
  [PINK_DASHED, "#ea3f97", [10, 5]],
  [CYAN_DASHED, "#1fb0dd", [10, 5]],
  [ORANGE_SOLID, "#f26a2a", "solid"],
  [GREEN_SOLID, "#63b043", "solid"],
  [CYAN_SOLID, "#22b5d9", "solid"],
];

const lineSeries = (vals, color, width, dash, xi, yi, yrs) => ({
  type: "line",
  xAxisIndex: xi,
  yAxisIndex: yi,
  data: pairs(vals, yrs),
  symbol: "none",
  silent: true,
  lineStyle: { color, width, type: dash, cap: "round", join: "round" },
});

const areaSeries = (vals, color) => ({
  type: "line",
  xAxisIndex: 4,
  yAxisIndex: 2,
  data: pairs(vals),
  symbol: "none",
  silent: true,
  lineStyle: { width: 0 },
  areaStyle: { color, opacity: 1, origin: "start" },
});

const xAxes = (gi) => {
  const base = {
    gridIndex: gi, type: "value", min: X_TICKS.min, max: X_TICKS.max,
    splitLine: { show: false },
  };
  return [
    {
      ...base, position: "bottom", interval: X_TICKS.major,
      name: "Year", nameLocation: "middle", nameGap: 59,
      nameTextStyle: { fontFamily: FONT, fontSize: 30, color: INK },
      axisLine: { show: true, lineStyle: { color: "#000", width: 2.5 } },
      axisTick: { inside: true, length: 9, lineStyle: { color: "#000", width: 2 } },
      axisLabel: {
        showMaxLabel: false, margin: 19, fontFamily: FONT, fontSize: 27, color: INK,
        formatter: (v) => String(v),
      },
    },
    {
      ...base, position: "bottom", interval: X_TICKS.minor,
      axisLine: { show: false },
      axisTick: { inside: true, length: 4, lineStyle: { color: "#000", width: 1.2 } },
      axisLabel: { show: false },
    },
    {
      ...base, position: "top", interval: X_TICKS.major,
      axisLine: { show: true, lineStyle: { color: "#000", width: 2.5 } },
      axisTick: { inside: true, length: 9, lineStyle: { color: "#000", width: 2 } },
      axisLabel: { show: false },
    },
    {
      ...base, position: "top", interval: X_TICKS.minor,
      axisLine: { show: false },
      axisTick: { inside: true, length: 4, lineStyle: { color: "#000", width: 1.2 } },
      axisLabel: { show: false },
    },
  ];
};

const yAxes = (gi, withLabels) => {
  const base = {
    gridIndex: gi, type: "value", min: Y_TICKS.min, max: Y_TICKS.max, interval: Y_TICKS.major,
    splitLine: { show: false },
    axisLine: { show: true, lineStyle: { color: "#000", width: 2.5 } },
    axisTick: { inside: true, length: 9, lineStyle: { color: "#000", width: 2 } },
    minorTick: { show: true, splitNumber: 2, length: 4, lineStyle: { color: "#000", width: 1.2 } },
  };
  const left = {
    ...base, position: "left",
    axisLabel: { show: withLabels, margin: 20, fontFamily: FONT, fontSize: 27, color: INK },
  };
  if (withLabels) {
    Object.assign(left, {
      name: "Sea ice extent (10{sup|6} km{sup|2})",
      nameLocation: "middle",
      nameGap: 66,
      nameRotate: 90,
      nameTextStyle: {
        fontFamily: FONT, fontSize: 32, color: INK,
        rich: { sup: { fontFamily: FONT, fontSize: 20, color: INK, verticalAlign: "top", padding: [0, 0, 12, 0] } },
      },
    });
  }
  return [left, { ...base, position: "right", axisLabel: { show: false } }];
};

const series = [];
runs.forEach(([vals, color, dash]) => series.push(lineSeries(vals, color, 1.3, dash, 0, 0)));
series.push(lineSeries(MODEL_MEAN, "#e8101c", 5, "solid", 0, 0));
series.push(lineSeries(OBSERVED, "#000", 5, "solid", 0, 0, OBS_YEARS));

series.push(areaSeries(RANGE_HI, "#d6a1c8"));
series.push(areaSeries(SPREAD_HI, "#b088bc"));
series.push(areaSeries(SPREAD_LO, "#d6a1c8"));
series.push(areaSeries(RANGE_LO, "#ffffff"));
series.push(lineSeries(SUBSET_MEAN, "#4d9fdb", 4, "solid", 4, 2));
series.push(lineSeries(MODEL_MEAN, "#e8101c", 4, "solid", 4, 2));
series.push(lineSeries(OBSERVED, "#000", 4, "solid", 4, 2, OBS_YEARS));

chart.setOption({
  animation: false,
  backgroundColor: "#fff",
  title: {
    text: "(b) Antarctic sea ice extent in February (1900-2012)",
    left: 107, top: 3,
    textStyle: { fontFamily: FONT, fontSize: 30, fontWeight: "normal", color: INK },
  },
  grid: [
    { left: 113, top: 58, width: 790, height: 471, outerBoundsMode: "none" },
    { left: 918, top: 58, width: 380, height: 471, outerBoundsMode: "none" },
  ],
  xAxis: [...xAxes(0), ...xAxes(1)],
  yAxis: [...yAxes(0, true), ...yAxes(1, false)],
  series,
});
</script>
</body>
</html>
